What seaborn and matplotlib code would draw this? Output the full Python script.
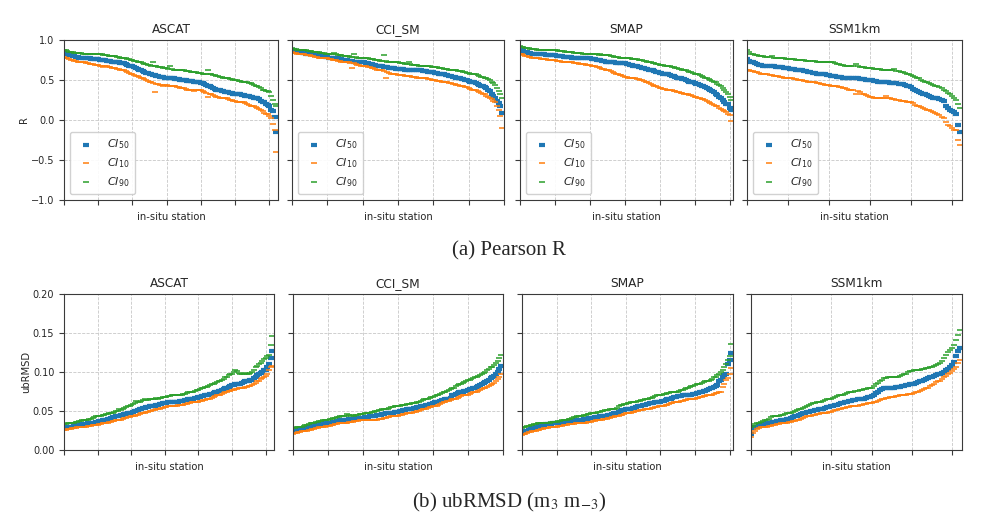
import numpy as np
import matplotlib
matplotlib.use("Agg")
import matplotlib.pyplot as plt
import seaborn as sns

products = ["ASCAT", "CCI_SM", "SMAP", "SSM1km"]
series_labels = [r"$CI_{50}$", r"$CI_{10}$", r"$CI_{90}$"]
row_ylabels = ["R", "ubRMSD"]
captions = ["(a) Pearson R", r"(b) ubRMSD (m$_{3}$ m$_{\mathrm{-}3}$)"]

# ---------------- Pearson R (stations sorted by CI50, descending) ----------------
ascat_r_ci50 = [
    0.84, 0.83, 0.82, 0.81, 0.81, 0.80, 0.80, 0.79, 0.79, 0.78,
    0.78, 0.78, 0.77, 0.77, 0.77, 0.77, 0.76, 0.76, 0.76, 0.76,
    0.76, 0.75, 0.75, 0.75, 0.75, 0.74, 0.74, 0.74, 0.73, 0.73,
    0.73, 0.72, 0.72, 0.71, 0.71, 0.71, 0.70, 0.69, 0.68, 0.68,
    0.67, 0.66, 0.65, 0.64, 0.63, 0.62, 0.61, 0.60, 0.59, 0.59,
    0.58, 0.57, 0.56, 0.56, 0.55, 0.55, 0.54, 0.54, 0.54, 0.53,
    0.53, 0.53, 0.52, 0.52, 0.52, 0.51, 0.51, 0.51, 0.50, 0.50,
    0.50, 0.50, 0.49, 0.49, 0.49, 0.49, 0.48, 0.48, 0.47, 0.47,
    0.46, 0.46, 0.45, 0.44, 0.43, 0.42, 0.41, 0.40, 0.39, 0.38,
    0.37, 0.37, 0.36, 0.36, 0.35, 0.35, 0.35, 0.34, 0.34, 0.33,
    0.33, 0.33, 0.32, 0.32, 0.31, 0.31, 0.30, 0.30, 0.30, 0.29,
    0.29, 0.28, 0.28, 0.27, 0.26, 0.24, 0.23, 0.22, 0.20, 0.19,
    0.17, 0.13, 0.11, 0.04, -0.15]
ascat_r_ci10 = [
    0.79, 0.78, 0.77, 0.76, 0.75, 0.75, 0.74, 0.74, 0.73, 0.73,
    0.73, 0.72, 0.72, 0.71, 0.71, 0.70, 0.70, 0.70, 0.69, 0.69,
    0.69, 0.67, 0.68, 0.66, 0.67, 0.67, 0.66, 0.66, 0.65, 0.65,
    0.65, 0.64, 0.64, 0.63, 0.63, 0.63, 0.61, 0.60, 0.59, 0.58,
    0.57, 0.56, 0.55, 0.55, 0.54, 0.53, 0.52, 0.51, 0.50, 0.49,
    0.48, 0.47, 0.46, 0.35, 0.45, 0.45, 0.44, 0.44, 0.43, 0.44,
    0.44, 0.43, 0.43, 0.42, 0.42, 0.42, 0.41, 0.41, 0.40, 0.40,
    0.40, 0.39, 0.38, 0.38, 0.37, 0.37, 0.36, 0.37, 0.37, 0.37,
    0.37, 0.36, 0.35, 0.34, 0.29, 0.33, 0.32, 0.31, 0.30, 0.29,
    0.29, 0.28, 0.28, 0.27, 0.27, 0.27, 0.26, 0.25, 0.25, 0.24,
    0.24, 0.23, 0.23, 0.22, 0.22, 0.22, 0.21, 0.20, 0.19, 0.18,
    0.18, 0.17, 0.16, 0.15, 0.14, 0.13, 0.11, 0.09, 0.08, 0.07,
    0.05, 0.02, -0.05, -0.12, -0.40]
ascat_r_ci90 = [
    0.88, 0.87, 0.86, 0.85, 0.85, 0.85, 0.84, 0.84, 0.84, 0.84,
    0.84, 0.83, 0.83, 0.83, 0.83, 0.82, 0.83, 0.83, 0.82, 0.82,
    0.83, 0.82, 0.82, 0.81, 0.81, 0.81, 0.80, 0.80, 0.80, 0.80,
    0.80, 0.79, 0.79, 0.78, 0.78, 0.77, 0.77, 0.76, 0.76, 0.75,
    0.75, 0.74, 0.74, 0.73, 0.72, 0.72, 0.71, 0.70, 0.70, 0.69,
    0.69, 0.68, 0.72, 0.67, 0.67, 0.66, 0.66, 0.66, 0.65, 0.65,
    0.65, 0.64, 0.67, 0.64, 0.63, 0.63, 0.63, 0.62, 0.62, 0.62,
    0.62, 0.61, 0.61, 0.61, 0.60, 0.60, 0.60, 0.60, 0.59, 0.59,
    0.59, 0.58, 0.58, 0.58, 0.63, 0.57, 0.57, 0.56, 0.56, 0.55,
    0.55, 0.54, 0.54, 0.53, 0.53, 0.52, 0.52, 0.51, 0.51, 0.50,
    0.50, 0.50, 0.49, 0.49, 0.48, 0.48, 0.47, 0.47, 0.46, 0.46,
    0.45, 0.44, 0.43, 0.42, 0.41, 0.40, 0.38, 0.37, 0.36, 0.36,
    0.35, 0.30, 0.25, 0.20, 0.17]

cci_r_ci50 = [
    0.88, 0.87, 0.86, 0.86, 0.85, 0.85, 0.84, 0.84, 0.83, 0.83,
    0.83, 0.82, 0.82, 0.81, 0.81, 0.81, 0.80, 0.80, 0.80, 0.79,
    0.79, 0.78, 0.78, 0.78, 0.77, 0.77, 0.77, 0.76, 0.76, 0.75,
    0.75, 0.75, 0.74, 0.74, 0.74, 0.73, 0.73, 0.73, 0.73, 0.72,
    0.72, 0.72, 0.71, 0.71, 0.70, 0.70, 0.69, 0.69, 0.68, 0.68,
    0.67, 0.67, 0.66, 0.66, 0.66, 0.65, 0.65, 0.65, 0.65, 0.64,
    0.64, 0.64, 0.64, 0.64, 0.63, 0.63, 0.63, 0.63, 0.63, 0.62,
    0.62, 0.62, 0.62, 0.62, 0.61, 0.61, 0.61, 0.60, 0.60, 0.60,
    0.60, 0.59, 0.59, 0.58, 0.58, 0.57, 0.57, 0.56, 0.56, 0.55,
    0.55, 0.54, 0.54, 0.53, 0.53, 0.52, 0.51, 0.51, 0.50, 0.50,
    0.49, 0.48, 0.48, 0.47, 0.46, 0.45, 0.44, 0.43, 0.42, 0.41,
    0.40, 0.38, 0.36, 0.33, 0.30, 0.27, 0.24, 0.21, 0.17, 0.09]
cci_r_ci10 = [
    0.85, 0.84, 0.84, 0.83, 0.83, 0.82, 0.82, 0.82, 0.81, 0.81,
    0.81, 0.80, 0.80, 0.79, 0.79, 0.78, 0.78, 0.78, 0.77, 0.77,
    0.77, 0.76, 0.76, 0.75, 0.75, 0.75, 0.74, 0.74, 0.73, 0.73,
    0.73, 0.72, 0.72, 0.71, 0.65, 0.71, 0.70, 0.69, 0.69, 0.68,
    0.68, 0.67, 0.67, 0.66, 0.66, 0.65, 0.65, 0.64, 0.63, 0.63,
    0.62, 0.62, 0.61, 0.52, 0.60, 0.59, 0.58, 0.58, 0.57, 0.57,
    0.56, 0.56, 0.56, 0.56, 0.55, 0.55, 0.55, 0.55, 0.54, 0.54,
    0.54, 0.53, 0.53, 0.53, 0.52, 0.52, 0.52, 0.51, 0.51, 0.50,
    0.50, 0.50, 0.49, 0.49, 0.49, 0.48, 0.48, 0.47, 0.47, 0.46,
    0.46, 0.45, 0.45, 0.44, 0.44, 0.43, 0.43, 0.42, 0.41, 0.41,
    0.40, 0.39, 0.38, 0.38, 0.37, 0.36, 0.35, 0.34, 0.33, 0.32,
    0.30, 0.29, 0.28, 0.26, 0.24, 0.22, 0.17, 0.12, 0.05, -0.10]
cci_r_ci90 = [
    0.90, 0.89, 0.89, 0.88, 0.88, 0.88, 0.87, 0.87, 0.87, 0.86,
    0.86, 0.86, 0.85, 0.85, 0.85, 0.85, 0.84, 0.84, 0.84, 0.83,
    0.83, 0.83, 0.82, 0.82, 0.84, 0.82, 0.81, 0.81, 0.81, 0.80,
    0.80, 0.80, 0.80, 0.79, 0.79, 0.82, 0.79, 0.78, 0.78, 0.78,
    0.78, 0.77, 0.77, 0.77, 0.76, 0.76, 0.76, 0.75, 0.75, 0.75,
    0.74, 0.74, 0.81, 0.74, 0.73, 0.73, 0.73, 0.72, 0.72, 0.72,
    0.72, 0.71, 0.71, 0.71, 0.70, 0.70, 0.72, 0.70, 0.69, 0.69,
    0.69, 0.69, 0.68, 0.68, 0.68, 0.68, 0.67, 0.67, 0.67, 0.66,
    0.66, 0.66, 0.66, 0.65, 0.65, 0.65, 0.64, 0.64, 0.64, 0.63,
    0.63, 0.63, 0.62, 0.62, 0.61, 0.61, 0.61, 0.60, 0.60, 0.59,
    0.59, 0.58, 0.58, 0.57, 0.57, 0.56, 0.55, 0.54, 0.54, 0.53,
    0.52, 0.51, 0.50, 0.48, 0.46, 0.44, 0.40, 0.36, 0.32, 0.27]

smap_r_ci50 = [
    0.88, 0.87, 0.86, 0.85, 0.85, 0.84, 0.84, 0.83, 0.83, 0.83,
    0.82, 0.82, 0.82, 0.82, 0.82, 0.81, 0.81, 0.81, 0.81, 0.81,
    0.81, 0.80, 0.80, 0.80, 0.80, 0.79, 0.79, 0.79, 0.79, 0.79,
    0.78, 0.78, 0.78, 0.78, 0.78, 0.78, 0.77, 0.77, 0.77, 0.77,
    0.77, 0.76, 0.76, 0.76, 0.75, 0.75, 0.75, 0.74, 0.74, 0.73,
    0.73, 0.73, 0.72, 0.72, 0.72, 0.71, 0.71, 0.71, 0.71, 0.71,
    0.71, 0.70, 0.70, 0.69, 0.69, 0.68, 0.67, 0.67, 0.66, 0.66,
    0.65, 0.65, 0.64, 0.64, 0.63, 0.62, 0.62, 0.61, 0.60, 0.60,
    0.59, 0.59, 0.58, 0.58, 0.57, 0.57, 0.56, 0.55, 0.55, 0.54,
    0.53, 0.53, 0.52, 0.51, 0.51, 0.50, 0.49, 0.48, 0.47, 0.47,
    0.46, 0.45, 0.45, 0.44, 0.43, 0.42, 0.41, 0.40, 0.39, 0.38,
    0.36, 0.35, 0.33, 0.31, 0.29, 0.27, 0.25, 0.22, 0.20, 0.20,
    0.15, 0.12]
smap_r_ci10 = [
    0.83, 0.82, 0.81, 0.80, 0.80, 0.79, 0.79, 0.78, 0.78, 0.77,
    0.77, 0.77, 0.76, 0.76, 0.76, 0.76, 0.75, 0.75, 0.75, 0.75,
    0.75, 0.74, 0.74, 0.74, 0.73, 0.73, 0.73, 0.72, 0.72, 0.72,
    0.72, 0.71, 0.71, 0.71, 0.70, 0.70, 0.70, 0.70, 0.69, 0.69,
    0.69, 0.68, 0.68, 0.67, 0.66, 0.66, 0.65, 0.64, 0.64, 0.63,
    0.63, 0.62, 0.61, 0.60, 0.59, 0.58, 0.57, 0.56, 0.56, 0.55,
    0.54, 0.54, 0.53, 0.53, 0.53, 0.52, 0.52, 0.51, 0.51, 0.50,
    0.50, 0.49, 0.48, 0.47, 0.46, 0.45, 0.44, 0.43, 0.42, 0.41,
    0.40, 0.40, 0.39, 0.39, 0.38, 0.38, 0.37, 0.37, 0.36, 0.36,
    0.35, 0.35, 0.34, 0.34, 0.33, 0.33, 0.32, 0.31, 0.31, 0.30,
    0.29, 0.29, 0.28, 0.27, 0.26, 0.26, 0.25, 0.24, 0.22, 0.21,
    0.20, 0.19, 0.18, 0.17, 0.15, 0.14, 0.13, 0.11, 0.10, 0.08,
    0.06, -0.01]
smap_r_ci90 = [
    0.92, 0.91, 0.91, 0.90, 0.90, 0.90, 0.89, 0.89, 0.89, 0.89,
    0.88, 0.88, 0.88, 0.88, 0.88, 0.88, 0.87, 0.87, 0.87, 0.87,
    0.87, 0.87, 0.86, 0.86, 0.86, 0.86, 0.85, 0.85, 0.85, 0.85,
    0.85, 0.84, 0.84, 0.84, 0.84, 0.84, 0.83, 0.83, 0.83, 0.83,
    0.83, 0.82, 0.82, 0.82, 0.82, 0.81, 0.82, 0.81, 0.81, 0.81,
    0.81, 0.81, 0.80, 0.80, 0.79, 0.79, 0.79, 0.78, 0.78, 0.78,
    0.77, 0.77, 0.77, 0.77, 0.76, 0.76, 0.76, 0.76, 0.75, 0.75,
    0.75, 0.74, 0.74, 0.73, 0.73, 0.72, 0.71, 0.71, 0.70, 0.70,
    0.69, 0.69, 0.69, 0.68, 0.68, 0.67, 0.67, 0.66, 0.66, 0.65,
    0.65, 0.64, 0.64, 0.63, 0.63, 0.62, 0.61, 0.60, 0.60, 0.59,
    0.58, 0.57, 0.57, 0.56, 0.55, 0.54, 0.53, 0.52, 0.51, 0.50,
    0.49, 0.48, 0.47, 0.45, 0.44, 0.42, 0.40, 0.38, 0.35, 0.32,
    0.29, 0.25]

ssm_r_ci50 = [
    0.76, 0.74, 0.73, 0.72, 0.71, 0.70, 0.69, 0.69, 0.68, 0.68,
    0.68, 0.67, 0.67, 0.67, 0.66, 0.66, 0.66, 0.66, 0.65, 0.65,
    0.65, 0.64, 0.64, 0.64, 0.63, 0.63, 0.62, 0.62, 0.61, 0.61,
    0.60, 0.60, 0.59, 0.59, 0.58, 0.58, 0.57, 0.57, 0.57, 0.56,
    0.56, 0.55, 0.55, 0.55, 0.54, 0.54, 0.54, 0.53, 0.53, 0.53,
    0.53, 0.52, 0.52, 0.52, 0.52, 0.51, 0.51, 0.51, 0.50, 0.50,
    0.50, 0.50, 0.49, 0.49, 0.48, 0.48, 0.48, 0.47, 0.47, 0.47,
    0.46, 0.46, 0.46, 0.46, 0.45, 0.45, 0.45, 0.44, 0.43, 0.42,
    0.41, 0.39, 0.37, 0.36, 0.35, 0.34, 0.33, 0.32, 0.31, 0.30,
    0.29, 0.28, 0.27, 0.27, 0.26, 0.25, 0.24, 0.17, 0.15, 0.13,
    0.11, 0.10, 0.08, -0.06, -0.15]
ssm_r_ci10 = [
    0.63, 0.62, 0.61, 0.61, 0.60, 0.60, 0.59, 0.58, 0.58, 0.57,
    0.57, 0.56, 0.56, 0.55, 0.55, 0.55, 0.54, 0.54, 0.53, 0.53,
    0.52, 0.52, 0.52, 0.51, 0.51, 0.50, 0.50, 0.50, 0.49, 0.49,
    0.48, 0.48, 0.47, 0.47, 0.46, 0.46, 0.45, 0.45, 0.44, 0.44,
    0.44, 0.43, 0.43, 0.42, 0.42, 0.41, 0.41, 0.40, 0.40, 0.39,
    0.38, 0.38, 0.37, 0.33, 0.36, 0.35, 0.33, 0.32, 0.31, 0.30,
    0.29, 0.29, 0.28, 0.28, 0.28, 0.27, 0.27, 0.27, 0.30, 0.27,
    0.27, 0.26, 0.26, 0.25, 0.25, 0.24, 0.24, 0.24, 0.23, 0.23,
    0.23, 0.21, 0.19, 0.18, 0.17, 0.16, 0.15, 0.14, 0.13, 0.12,
    0.11, 0.10, 0.09, 0.07, 0.06, 0.04, 0.02, -0.02, -0.06, -0.08,
    -0.10, -0.12, -0.13, -0.25, -0.31]
ssm_r_ci90 = [
    0.87, 0.85, 0.83, 0.82, 0.81, 0.81, 0.80, 0.80, 0.80, 0.79,
    0.79, 0.79, 0.80, 0.78, 0.78, 0.78, 0.77, 0.77, 0.77, 0.76,
    0.76, 0.76, 0.76, 0.76, 0.75, 0.75, 0.75, 0.75, 0.75, 0.74,
    0.74, 0.74, 0.74, 0.74, 0.73, 0.73, 0.73, 0.73, 0.73, 0.73,
    0.73, 0.72, 0.72, 0.71, 0.70, 0.70, 0.69, 0.69, 0.68, 0.68,
    0.68, 0.67, 0.67, 0.70, 0.67, 0.66, 0.66, 0.66, 0.65, 0.65,
    0.65, 0.65, 0.64, 0.64, 0.64, 0.64, 0.63, 0.63, 0.63, 0.62,
    0.62, 0.62, 0.64, 0.61, 0.61, 0.60, 0.60, 0.59, 0.58, 0.57,
    0.56, 0.55, 0.54, 0.53, 0.52, 0.50, 0.49, 0.48, 0.47, 0.46,
    0.45, 0.44, 0.43, 0.42, 0.41, 0.40, 0.38, 0.36, 0.34, 0.32,
    0.30, 0.27, 0.25, 0.20, 0.15]

# ---------------- ubRMSD (stations sorted by CI50, ascending) ----------------
ascat_ub_ci50 = [
    0.028, 0.029, 0.029, 0.030, 0.030, 0.030, 0.031, 0.031, 0.032, 0.032,
    0.032, 0.033, 0.033, 0.033, 0.034, 0.034, 0.034, 0.035, 0.035, 0.036,
    0.036, 0.037, 0.037, 0.038, 0.038, 0.039, 0.040, 0.040, 0.041, 0.042,
    0.042, 0.043, 0.043, 0.044, 0.045, 0.045, 0.046, 0.046, 0.047, 0.047,
    0.048, 0.049, 0.050, 0.050, 0.051, 0.052, 0.053, 0.054, 0.054, 0.055,
    0.055, 0.056, 0.056, 0.057, 0.057, 0.058, 0.058, 0.059, 0.059, 0.060,
    0.060, 0.060, 0.061, 0.061, 0.061, 0.062, 0.062, 0.062, 0.062, 0.063,
    0.063, 0.063, 0.064, 0.064, 0.065, 0.065, 0.066, 0.066, 0.067, 0.067,
    0.068, 0.068, 0.069, 0.069, 0.070, 0.070, 0.071, 0.072, 0.072, 0.073,
    0.074, 0.075, 0.076, 0.076, 0.077, 0.078, 0.079, 0.080, 0.081, 0.082,
    0.083, 0.083, 0.084, 0.084, 0.085, 0.085, 0.086, 0.087, 0.088, 0.089,
    0.089, 0.090, 0.090, 0.092, 0.094, 0.096, 0.097, 0.099, 0.100, 0.102,
    0.103, 0.106, 0.110, 0.118, 0.127]
ascat_ub_ci10 = [
    0.026, 0.026, 0.027, 0.027, 0.027, 0.028, 0.028, 0.028, 0.029, 0.029,
    0.029, 0.030, 0.030, 0.030, 0.031, 0.031, 0.031, 0.032, 0.032, 0.032,
    0.032, 0.033, 0.033, 0.034, 0.034, 0.035, 0.035, 0.036, 0.036, 0.037,
    0.037, 0.038, 0.038, 0.039, 0.039, 0.040, 0.041, 0.041, 0.042, 0.042,
    0.043, 0.044, 0.044, 0.045, 0.045, 0.046, 0.047, 0.047, 0.048, 0.049,
    0.049, 0.050, 0.050, 0.051, 0.051, 0.052, 0.053, 0.053, 0.054, 0.054,
    0.055, 0.055, 0.056, 0.056, 0.056, 0.057, 0.057, 0.057, 0.058, 0.058,
    0.058, 0.058, 0.059, 0.059, 0.060, 0.060, 0.061, 0.061, 0.062, 0.062,
    0.062, 0.063, 0.063, 0.064, 0.064, 0.065, 0.066, 0.066, 0.067, 0.068,
    0.069, 0.070, 0.070, 0.071, 0.072, 0.073, 0.074, 0.075, 0.076, 0.076,
    0.077, 0.077, 0.078, 0.078, 0.079, 0.079, 0.080, 0.080, 0.081, 0.081,
    0.082, 0.082, 0.083, 0.085, 0.086, 0.088, 0.089, 0.091, 0.092, 0.094,
    0.095, 0.098, 0.103, 0.106, 0.108]
ascat_ub_ci90 = [
    0.033, 0.033, 0.034, 0.034, 0.035, 0.035, 0.035, 0.036, 0.036, 0.037,
    0.037, 0.038, 0.038, 0.038, 0.039, 0.040, 0.040, 0.041, 0.042, 0.043,
    0.043, 0.044, 0.044, 0.045, 0.045, 0.046, 0.046, 0.047, 0.048, 0.048,
    0.049, 0.050, 0.050, 0.053, 0.051, 0.052, 0.054, 0.055, 0.056, 0.057,
    0.058, 0.059, 0.060, 0.063, 0.061, 0.062, 0.063, 0.064, 0.066, 0.064,
    0.064, 0.065, 0.065, 0.066, 0.066, 0.067, 0.066, 0.067, 0.067, 0.068,
    0.068, 0.068, 0.069, 0.069, 0.070, 0.070, 0.070, 0.071, 0.071, 0.071,
    0.071, 0.072, 0.072, 0.073, 0.074, 0.074, 0.075, 0.075, 0.076, 0.077,
    0.077, 0.078, 0.079, 0.080, 0.081, 0.081, 0.082, 0.083, 0.084, 0.085,
    0.086, 0.087, 0.088, 0.089, 0.090, 0.091, 0.093, 0.094, 0.096, 0.098,
    0.098, 0.100, 0.103, 0.101, 0.099, 0.098, 0.098, 0.098, 0.099, 0.098,
    0.098, 0.099, 0.100, 0.103, 0.106, 0.108, 0.110, 0.112, 0.114, 0.117,
    0.118, 0.120, 0.122, 0.135, 0.146]

cci_ub_ci50 = [
    0.024, 0.025, 0.025, 0.026, 0.026, 0.027, 0.027, 0.028, 0.028, 0.029,
    0.030, 0.031, 0.031, 0.032, 0.032, 0.033, 0.033, 0.033, 0.034, 0.034,
    0.034, 0.035, 0.035, 0.036, 0.036, 0.037, 0.037, 0.038, 0.038, 0.039,
    0.039, 0.039, 0.040, 0.040, 0.040, 0.040, 0.041, 0.041, 0.041, 0.041,
    0.041, 0.042, 0.042, 0.042, 0.043, 0.043, 0.044, 0.044, 0.045, 0.045,
    0.045, 0.046, 0.046, 0.047, 0.047, 0.047, 0.048, 0.048, 0.049, 0.049,
    0.049, 0.050, 0.050, 0.051, 0.051, 0.052, 0.052, 0.053, 0.053, 0.054,
    0.054, 0.055, 0.055, 0.056, 0.056, 0.057, 0.058, 0.058, 0.059, 0.059,
    0.060, 0.061, 0.062, 0.062, 0.063, 0.064, 0.064, 0.065, 0.066, 0.066,
    0.067, 0.070, 0.071, 0.072, 0.073, 0.074, 0.074, 0.075, 0.076, 0.076,
    0.077, 0.078, 0.078, 0.079, 0.080, 0.081, 0.082, 0.083, 0.084, 0.086,
    0.087, 0.088, 0.090, 0.092, 0.093, 0.095, 0.097, 0.100, 0.104, 0.108]
cci_ub_ci10 = [
    0.021, 0.022, 0.022, 0.023, 0.023, 0.024, 0.024, 0.025, 0.025, 0.026,
    0.026, 0.027, 0.027, 0.028, 0.028, 0.029, 0.029, 0.030, 0.030, 0.031,
    0.031, 0.031, 0.032, 0.032, 0.033, 0.033, 0.034, 0.034, 0.034, 0.035,
    0.035, 0.035, 0.036, 0.036, 0.036, 0.037, 0.037, 0.037, 0.038, 0.038,
    0.038, 0.038, 0.038, 0.039, 0.039, 0.039, 0.039, 0.039, 0.039, 0.040,
    0.040, 0.040, 0.041, 0.041, 0.042, 0.042, 0.043, 0.043, 0.044, 0.044,
    0.044, 0.045, 0.045, 0.046, 0.046, 0.047, 0.047, 0.048, 0.048, 0.049,
    0.049, 0.050, 0.050, 0.051, 0.052, 0.052, 0.053, 0.054, 0.055, 0.055,
    0.056, 0.057, 0.057, 0.058, 0.059, 0.060, 0.061, 0.062, 0.063, 0.063,
    0.064, 0.065, 0.066, 0.066, 0.067, 0.068, 0.069, 0.070, 0.070, 0.071,
    0.071, 0.072, 0.073, 0.074, 0.074, 0.075, 0.076, 0.077, 0.078, 0.079,
    0.080, 0.081, 0.082, 0.083, 0.085, 0.086, 0.088, 0.091, 0.094, 0.098]
cci_ub_ci90 = [
    0.028, 0.028, 0.029, 0.029, 0.030, 0.030, 0.031, 0.032, 0.032, 0.033,
    0.034, 0.035, 0.035, 0.036, 0.036, 0.037, 0.037, 0.038, 0.038, 0.039,
    0.039, 0.040, 0.040, 0.041, 0.041, 0.042, 0.042, 0.043, 0.043, 0.044,
    0.044, 0.046, 0.045, 0.044, 0.045, 0.044, 0.045, 0.045, 0.046, 0.046,
    0.046, 0.047, 0.047, 0.048, 0.048, 0.049, 0.049, 0.050, 0.050, 0.051,
    0.051, 0.052, 0.052, 0.053, 0.053, 0.054, 0.055, 0.055, 0.056, 0.056,
    0.057, 0.057, 0.058, 0.058, 0.058, 0.059, 0.059, 0.059, 0.060, 0.060,
    0.060, 0.061, 0.062, 0.063, 0.064, 0.065, 0.066, 0.066, 0.067, 0.068,
    0.068, 0.069, 0.070, 0.071, 0.072, 0.073, 0.074, 0.075, 0.076, 0.077,
    0.078, 0.079, 0.080, 0.082, 0.083, 0.084, 0.085, 0.086, 0.087, 0.088,
    0.090, 0.090, 0.091, 0.092, 0.093, 0.094, 0.095, 0.096, 0.097, 0.099,
    0.100, 0.102, 0.104, 0.106, 0.107, 0.109, 0.111, 0.114, 0.118, 0.122]

smap_ub_ci50 = [
    0.022, 0.023, 0.024, 0.025, 0.026, 0.027, 0.028, 0.028, 0.029, 0.030,
    0.031, 0.031, 0.032, 0.032, 0.033, 0.033, 0.033, 0.033, 0.034, 0.034,
    0.034, 0.035, 0.035, 0.035, 0.035, 0.036, 0.036, 0.036, 0.037, 0.037,
    0.037, 0.038, 0.038, 0.038, 0.039, 0.039, 0.040, 0.040, 0.040, 0.041,
    0.041, 0.041, 0.042, 0.042, 0.042, 0.043, 0.043, 0.043, 0.044, 0.044,
    0.045, 0.045, 0.046, 0.047, 0.047, 0.048, 0.049, 0.050, 0.051, 0.051,
    0.052, 0.052, 0.053, 0.053, 0.054, 0.054, 0.055, 0.056, 0.056, 0.057,
    0.058, 0.058, 0.059, 0.059, 0.060, 0.060, 0.060, 0.061, 0.061, 0.062,
    0.062, 0.063, 0.063, 0.064, 0.065, 0.065, 0.066, 0.067, 0.068, 0.068,
    0.069, 0.069, 0.069, 0.070, 0.070, 0.070, 0.071, 0.071, 0.071, 0.072,
    0.072, 0.073, 0.073, 0.074, 0.075, 0.076, 0.076, 0.077, 0.078, 0.079,
    0.080, 0.081, 0.082, 0.083, 0.088, 0.090, 0.094, 0.096, 0.098, 0.110,
    0.116, 0.124]
smap_ub_ci10 = [
    0.019, 0.020, 0.021, 0.022, 0.023, 0.023, 0.024, 0.025, 0.025, 0.026,
    0.026, 0.027, 0.027, 0.028, 0.028, 0.028, 0.029, 0.029, 0.030, 0.030,
    0.030, 0.031, 0.031, 0.031, 0.032, 0.032, 0.032, 0.033, 0.033, 0.033,
    0.033, 0.034, 0.034, 0.034, 0.035, 0.035, 0.035, 0.035, 0.036, 0.036,
    0.036, 0.037, 0.037, 0.038, 0.038, 0.039, 0.039, 0.040, 0.040, 0.040,
    0.041, 0.041, 0.042, 0.042, 0.043, 0.044, 0.044, 0.045, 0.045, 0.046,
    0.047, 0.047, 0.048, 0.048, 0.049, 0.049, 0.050, 0.050, 0.051, 0.051,
    0.051, 0.052, 0.052, 0.053, 0.053, 0.054, 0.054, 0.055, 0.055, 0.056,
    0.056, 0.057, 0.057, 0.058, 0.058, 0.059, 0.060, 0.060, 0.061, 0.061,
    0.062, 0.062, 0.063, 0.063, 0.064, 0.064, 0.065, 0.065, 0.066, 0.066,
    0.066, 0.067, 0.067, 0.068, 0.068, 0.069, 0.069, 0.070, 0.070, 0.071,
    0.071, 0.072, 0.073, 0.073, 0.074, 0.075, 0.081, 0.085, 0.090, 0.092,
    0.098, 0.105]
smap_ub_ci90 = [
    0.028, 0.029, 0.030, 0.031, 0.031, 0.032, 0.032, 0.033, 0.033, 0.034,
    0.034, 0.034, 0.034, 0.035, 0.035, 0.035, 0.035, 0.036, 0.036, 0.036,
    0.036, 0.037, 0.037, 0.038, 0.038, 0.039, 0.039, 0.040, 0.040, 0.041,
    0.042, 0.042, 0.043, 0.043, 0.044, 0.044, 0.045, 0.045, 0.046, 0.046,
    0.047, 0.047, 0.048, 0.048, 0.049, 0.049, 0.050, 0.050, 0.051, 0.051,
    0.051, 0.052, 0.052, 0.053, 0.053, 0.054, 0.057, 0.058, 0.058, 0.059,
    0.059, 0.060, 0.060, 0.061, 0.061, 0.062, 0.062, 0.063, 0.063, 0.064,
    0.064, 0.065, 0.065, 0.066, 0.067, 0.067, 0.068, 0.069, 0.070, 0.070,
    0.071, 0.071, 0.072, 0.072, 0.073, 0.073, 0.074, 0.074, 0.075, 0.075,
    0.075, 0.076, 0.077, 0.077, 0.078, 0.079, 0.080, 0.081, 0.082, 0.082,
    0.083, 0.084, 0.084, 0.085, 0.086, 0.087, 0.088, 0.089, 0.089, 0.090,
    0.091, 0.093, 0.094, 0.096, 0.098, 0.100, 0.103, 0.106, 0.110, 0.115,
    0.120, 0.136]

ssm_ub_ci50 = [
    0.021, 0.028, 0.029, 0.030, 0.032, 0.032, 0.033, 0.033, 0.034, 0.034,
    0.035, 0.036, 0.036, 0.037, 0.037, 0.038, 0.038, 0.039, 0.040, 0.040,
    0.041, 0.042, 0.043, 0.044, 0.045, 0.046, 0.047, 0.048, 0.049, 0.049,
    0.050, 0.050, 0.051, 0.051, 0.052, 0.052, 0.053, 0.054, 0.055, 0.055,
    0.056, 0.057, 0.058, 0.058, 0.059, 0.060, 0.060, 0.061, 0.062, 0.063,
    0.063, 0.064, 0.064, 0.065, 0.065, 0.066, 0.066, 0.067, 0.068, 0.068,
    0.069, 0.071, 0.073, 0.075, 0.077, 0.078, 0.079, 0.079, 0.079, 0.080,
    0.080, 0.080, 0.081, 0.081, 0.081, 0.082, 0.082, 0.083, 0.083, 0.084,
    0.084, 0.085, 0.086, 0.087, 0.088, 0.089, 0.090, 0.091, 0.092, 0.093,
    0.094, 0.095, 0.096, 0.097, 0.098, 0.099, 0.100, 0.102, 0.104, 0.106,
    0.109, 0.113, 0.120, 0.127, 0.131]
ssm_ub_ci10 = [
    0.017, 0.022, 0.025, 0.027, 0.028, 0.029, 0.029, 0.030, 0.030, 0.031,
    0.031, 0.032, 0.032, 0.033, 0.033, 0.034, 0.034, 0.035, 0.035, 0.036,
    0.036, 0.037, 0.037, 0.038, 0.039, 0.040, 0.041, 0.042, 0.043, 0.043,
    0.044, 0.045, 0.045, 0.046, 0.046, 0.047, 0.047, 0.048, 0.048, 0.049,
    0.049, 0.050, 0.051, 0.051, 0.052, 0.053, 0.054, 0.054, 0.055, 0.055,
    0.056, 0.056, 0.057, 0.057, 0.058, 0.058, 0.059, 0.059, 0.060, 0.060,
    0.060, 0.061, 0.062, 0.063, 0.064, 0.065, 0.066, 0.067, 0.067, 0.068,
    0.068, 0.068, 0.069, 0.069, 0.070, 0.070, 0.071, 0.071, 0.072, 0.072,
    0.072, 0.073, 0.074, 0.075, 0.076, 0.077, 0.078, 0.079, 0.080, 0.082,
    0.083, 0.085, 0.087, 0.088, 0.089, 0.091, 0.093, 0.095, 0.097, 0.099,
    0.101, 0.104, 0.107, 0.112, 0.116]
ssm_ub_ci90 = [
    0.030, 0.031, 0.033, 0.034, 0.035, 0.036, 0.037, 0.038, 0.039, 0.040,
    0.042, 0.043, 0.043, 0.044, 0.044, 0.045, 0.045, 0.046, 0.047, 0.047,
    0.048, 0.049, 0.050, 0.051, 0.052, 0.053, 0.054, 0.055, 0.057, 0.058,
    0.059, 0.060, 0.060, 0.061, 0.062, 0.062, 0.063, 0.064, 0.065, 0.066,
    0.066, 0.067, 0.068, 0.069, 0.070, 0.070, 0.071, 0.072, 0.073, 0.074,
    0.074, 0.075, 0.076, 0.076, 0.077, 0.077, 0.078, 0.078, 0.079, 0.079,
    0.079, 0.082, 0.084, 0.086, 0.088, 0.090, 0.092, 0.092, 0.093, 0.093,
    0.093, 0.094, 0.094, 0.094, 0.095, 0.096, 0.097, 0.098, 0.100, 0.101,
    0.101, 0.102, 0.102, 0.103, 0.103, 0.104, 0.104, 0.105, 0.105, 0.106,
    0.107, 0.108, 0.109, 0.110, 0.111, 0.114, 0.118, 0.122, 0.126, 0.128,
    0.131, 0.135, 0.141, 0.148, 0.154]

r_data = [
    (ascat_r_ci50, ascat_r_ci10, ascat_r_ci90),
    (cci_r_ci50, cci_r_ci10, cci_r_ci90),
    (smap_r_ci50, smap_r_ci10, smap_r_ci90),
    (ssm_r_ci50, ssm_r_ci10, ssm_r_ci90),
]
ub_data = [
    (ascat_ub_ci50, ascat_ub_ci10, ascat_ub_ci90),
    (cci_ub_ci50, cci_ub_ci10, cci_ub_ci90),
    (smap_ub_ci50, smap_ub_ci10, smap_ub_ci90),
    (ssm_ub_ci50, ssm_ub_ci10, ssm_ub_ci90),
]

# ---------------- styling ----------------
sns.set_theme(style="ticks", rc={
    "axes.edgecolor": "#3a3a3a",
    "axes.linewidth": 0.8,
    "xtick.color": "#3a3a3a",
    "ytick.color": "#3a3a3a",
    "xtick.labelcolor": "#262626",
    "ytick.labelcolor": "#262626",
    "xtick.major.size": 3.5,
    "ytick.major.size": 3.5,
    "xtick.major.width": 0.8,
    "ytick.major.width": 0.8,
    "xtick.labelsize": 7,
    "ytick.labelsize": 7,
    "axes.labelsize": 7.2,
    "axes.titlesize": 8.7,
    "axes.labelcolor": "#262626",
    "text.color": "#262626",
})
plt.rcParams["font.family"] = ["DejaVu Sans"]
plt.rcParams["mathtext.fontset"] = "dejavusans"

colors = sns.color_palette("tab10")
c50, c10, c90 = colors[0], colors[1], colors[2]

W, H = 985, 525
fig = plt.figure(figsize=(W / 100, H / 100), dpi=100)


def px_axes(x0, y0, x1, y1):
    return fig.add_axes([x0 / W, 1 - y1 / H, (x1 - x0) / W, (y1 - y0) / H])


top_boxes = [(64, 40, 278, 200), (292, 40, 504, 200), (520, 40, 733, 200), (747, 40, 962, 200)]
bot_boxes = [(64, 294, 274, 450), (293, 294, 503, 450), (522, 294, 733, 450), (751, 294, 962, 450)]


def draw_panel(ax, series, title, ylim, yticks, ylabel, show_ylabels, legend):
    s50, s10, s90 = series
    n = len(s50)
    specs = [(s50, c50, 20, 3.0, 1.0, series_labels[0]),
             (s10, c10, 16, 1.3, 0.85, series_labels[1]),
             (s90, c90, 16, 1.3, 0.85, series_labels[2])]
    for vals, col, size, lw, alpha, lab in specs:
        sns.scatterplot(x=np.arange(len(vals)), y=vals, marker="_", s=size,
                        linewidth=lw, color=col, alpha=alpha, ax=ax, label=lab,
                        legend=False)
    ax.set_xlim(0, n)
    ax.set_ylim(*ylim)
    ax.set_xticks(np.arange(0, n + 1, 20))
    ax.set_xticklabels([])
    ax.set_yticks(yticks)
    if not show_ylabels:
        ax.set_yticklabels([])
    ax.grid(True, linestyle="--", linewidth=0.6, color="#c8c8c8")
    ax.set_axisbelow(True)
    ax.set_title(title, pad=5)
    ax.set_xlabel("in-situ station", labelpad=2)
    ax.set_ylabel(ylabel if show_ylabels else "", labelpad=1)
    if legend:
        ax.legend(loc="lower left", fontsize=8, frameon=True, handlelength=2.0,
                  borderpad=0.5, labelspacing=0.45, handletextpad=0.9,
                  edgecolor="#cccccc", fancybox=True, framealpha=0.9)
    elif ax.get_legend() is not None:
        ax.get_legend().remove()


for i, (prod, box) in enumerate(zip(products, top_boxes)):
    ax = px_axes(*box)
    draw_panel(ax, r_data[i], prod, (-1.0, 1.0), [-1.0, -0.5, 0.0, 0.5, 1.0],
               row_ylabels[0], i == 0, True)
    if i == 0:
        ax.set_yticklabels(["\u22121.0", "\u22120.5", "0.0", "0.5", "1.0"])

for i, (prod, box) in enumerate(zip(products, bot_boxes)):
    ax = px_axes(*box)
    draw_panel(ax, ub_data[i], prod, (0.0, 0.2), [0.0, 0.05, 0.10, 0.15, 0.20],
               row_ylabels[1], i == 0, False)
    if i == 0:
        ax.set_yticklabels(["0.00", "0.05", "0.10", "0.15", "0.20"])

fig.text(509 / W, 1 - 251 / H, captions[0], ha="center", va="center",
         fontsize=15, family=["Liberation Serif", "DejaVu Serif"], math_fontfamily="stix")
fig.text(509 / W, 1 - 502 / H, captions[1], ha="center", va="center",
         fontsize=15, family=["Liberation Serif", "DejaVu Serif"], math_fontfamily="stix")

fig.savefig("out.png", dpi=100)
